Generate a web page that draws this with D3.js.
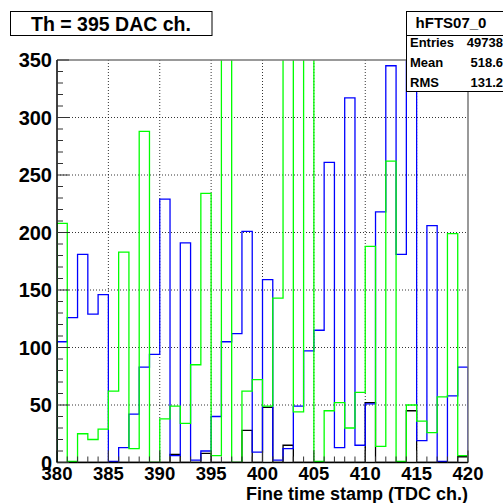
<!DOCTYPE html>
<meta charset="utf-8" />
<style>
  body { margin: 0; background: #fff; }
  text { font-family: 'Liberation Sans', Arial, sans-serif; font-weight: bold; fill: #000; }
  .hist { fill: none; stroke-width: 1.3px; }
  .grid line { stroke: #000; stroke-dasharray: 1,2; stroke-width: 0.8px; }
</style>
<body>
  <script src="https://d3js.org/d3.v7.min.js"></script>
  <script>
    // bin low edges (TDC ch.), one bin per channel
    var bins = d3.range(380, 420);

    // counts per bin (values > 350 are clipped by the frame)
    var blackCounts = [0, 0, 0, 0, 0, 0, 0, 0, 0, 0, 0, 7, 0, 0, 8, 0, 0, 0, 28, 0,
                       48, 0, 15, 0, 0, 0, 0, 0, 0, 0, 52, 0, 0, 0, 45, 0, 0, 0, 0, 5];
    var blueCounts = [105, 126, 181, 129, 146, 1, 13, 42, 83, 94, 229, 6, 191, 2, 10, 40, 105, 112, 201, 9,
                      159, 2, 12, 49, 97, 115, 261, 13, 317, 15, 51, 218, 345, 181, 380, 19, 206, 1, 58, 83];
    var greenCounts = [208, 1, 25, 20, 29, 62, 183, 12, 288, 0, 38, 49, 34, 85, 234, 6, 400, 0, 62, 72,
                       49, 143, 400, 44, 400, 1, 45, 52, 30, 61, 188, 14, 262, 1, 50, 36, 26, 57, 199, 6];

    var xTicks = d3.range(380, 421, 5);
    var yTicks = d3.range(0, 351, 50);

    var titleText = 'Th = 395 DAC ch.';
    var xTitle = 'Fine time stamp (TDC ch.)';
    var statsName = 'hFTS07_0';
    var statsRows = [['Entries', '49738'], ['Mean', '518.6'], ['RMS', '131.2']];

    // frame of the pad
    var margin = { top: 60, right: 35, bottom: 40.5, left: 57 },
      width = 503 - margin.left - margin.right,
      height = 503 - margin.top - margin.bottom;

    var x = d3.scaleLinear().domain([380, 420]).range([0, width]);
    var y = d3.scaleLinear().domain([0, 350]).range([height, 0]);

    var svg = d3.select('body').append('svg')
      .attr('width', 503)
      .attr('height', 503);

    var g = svg.append('g')
      .attr('transform', 'translate(' + margin.left + ',' + margin.top + ')');

    g.append('clipPath').attr('id', 'frame')
      .append('rect').attr('width', width).attr('height', height);

    // dotted grid
    var grid = g.append('g').attr('class', 'grid');
    grid.selectAll('.gx').data(xTicks.slice(1, -1)).enter().append('line')
      .attr('x1', d => x(d)).attr('x2', d => x(d))
      .attr('y1', 0).attr('y2', height);
    grid.selectAll('.gy').data(yTicks.slice(1, -1)).enter().append('line')
      .attr('x1', 0).attr('x2', width)
      .attr('y1', d => y(d)).attr('y2', d => y(d));

    // histogram outline as a step path
    function stepPath(counts) {
      var pts = [[x(bins[0]), y(0)]];
      counts.forEach(function(c, i) {
        pts.push([x(bins[i]), y(c)]);
        pts.push([x(bins[i] + 1), y(c)]);
      });
      pts.push([x(bins[bins.length - 1] + 1), y(0)]);
      return d3.line()(pts);
    }

    var hists = g.append('g').attr('clip-path', 'url(#frame)');
    [[blackCounts, '#000'], [blueCounts, '#0000ff'], [greenCounts, '#00ff00']].forEach(function(h) {
      hists.append('path')
        .attr('class', 'hist')
        .attr('stroke', h[1])
        .attr('d', stepPath(h[0]));
    });

    // frame top / right
    g.append('line').attr('x1', 0).attr('x2', width).attr('y1', 0).attr('y2', 0)
      .attr('stroke', '#777').attr('stroke-width', 1.5);
    g.append('line').attr('x1', width).attr('x2', width).attr('y1', 0).attr('y2', height)
      .attr('stroke', '#777').attr('stroke-width', 1.5);

    // axes with ROOT-like inward ticks
    var xAxis = g.append('g').attr('transform', 'translate(0,' + height + ')');
    xAxis.append('line').attr('x1', 0).attr('x2', width).attr('stroke', '#000').attr('stroke-width', 1.5);
    xAxis.selectAll('.minor').data(d3.range(380, 421)).enter().append('line')
      .attr('x1', d => x(d)).attr('x2', d => x(d))
      .attr('y1', 0).attr('y2', d => d % 5 === 0 ? -12 : -6)
      .attr('stroke', '#333').attr('stroke-width', 1);
    xAxis.selectAll('text').data(xTicks).enter().append('text')
      .attr('x', d => x(d)).attr('y', 17.5)
      .attr('text-anchor', 'middle')
      .style('font-size', '18.5px')
      .text(d => d);

    var yAxis = g.append('g');
    yAxis.append('line').attr('y1', 0).attr('y2', height).attr('stroke', '#000').attr('stroke-width', 1.5);
    yAxis.selectAll('.minor').data(d3.range(0, 351, 10)).enter().append('line')
      .attr('y1', d => y(d)).attr('y2', d => y(d))
      .attr('x1', 0).attr('x2', d => d % 50 === 0 ? 12 : 6)
      .attr('stroke', '#333').attr('stroke-width', 1);
    yAxis.selectAll('text').data(yTicks).enter().append('text')
      .attr('x', -5).attr('y', d => y(d) + 7)
      .attr('text-anchor', 'end')
      .style('font-size', '20px')
      .text(d => d);

    svg.append('text')
      .attr('x', 468).attr('y', 500)
      .attr('text-anchor', 'end')
      .style('font-size', '18px')
      .text(xTitle);

    // title box
    svg.append('rect').attr('x', 10.5).attr('y', 11.5).attr('width', 201.5).attr('height', 24)
      .attr('fill', '#fff').attr('stroke', '#000');
    svg.append('text').attr('x', 111).attr('y', 31)
      .attr('text-anchor', 'middle').style('font-size', '19.5px')
      .text(titleText);

    // stats box
    svg.append('rect').attr('x', 406.5).attr('y', 11.5).attr('width', 100).attr('height', 80)
      .attr('fill', '#fff').attr('stroke', '#000');
    svg.append('line').attr('x1', 406.5).attr('x2', 503).attr('y1', 35.5).attr('y2', 35.5)
      .attr('stroke', '#000');
    svg.append('text').attr('x', 451).attr('y', 28)
      .attr('text-anchor', 'middle').style('font-size', '15px')
      .text(statsName);
    statsRows.forEach(function(r, i) {
      svg.append('text').attr('x', 410).attr('y', 47 + i * 20)
        .style('font-size', '13px').text(r[0]);
      svg.append('text').attr('x', 503).attr('y', 47 + i * 20)
        .attr('text-anchor', 'end').style('font-size', '13px').text(r[1]);
    });
  </script>
</body>
